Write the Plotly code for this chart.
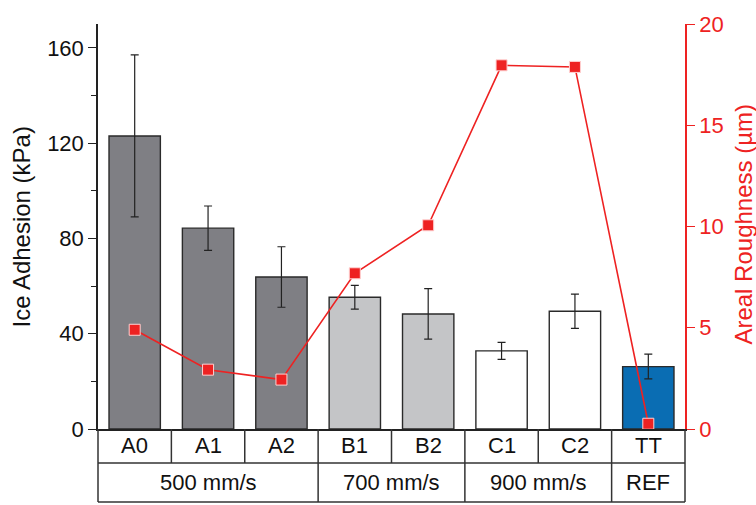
import plotly.graph_objects as go

categories = ["A0", "A1", "A2", "B1", "B2", "C1", "C2", "TT"]
groups = ["500 mm/s", "500 mm/s", "500 mm/s", "700 mm/s", "700 mm/s", "900 mm/s", "900 mm/s", "REF"]
adhesion = [123.0, 84.3, 63.8, 55.3, 48.3, 32.8, 49.4, 26.2]
adhesion_err = [34.0, 9.3, 12.7, 5.0, 10.6, 3.6, 7.2, 5.2]
roughness = [4.9, 2.93, 2.44, 7.69, 10.06, 17.96, 17.88, 0.26]

bar_colors = ["#7f7f84", "#7f7f84", "#7f7f84", "#c4c5c7", "#c4c5c7", "#ffffff", "#ffffff", "#0a6db3"]
RED = "#ee2222"
FONT = "Liberation Sans, Arial, sans-serif"

x = list(range(len(categories)))
n = len(categories)

fig = go.Figure()
fig.add_trace(go.Bar(
    x=x, y=adhesion, width=0.7,
    marker=dict(color=bar_colors, line=dict(color="#2a2a2a", width=1.4)),
    error_y=dict(type="data", array=adhesion_err, visible=True, color="#222222", thickness=1.2, width=4),
    showlegend=False, yaxis="y", hoverinfo="skip",
))
fig.add_trace(go.Scatter(
    x=x, y=roughness, mode="lines+markers", yaxis="y2",
    line=dict(color=RED, width=1.6),
    marker=dict(symbol="square", size=11, color=RED, line=dict(color="#ffd0d0", width=1)),
    showlegend=False, cliponaxis=False, hoverinfo="skip",
))

# table below the axis
row1 = -0.0839
row2 = -0.1802
line_style = dict(color="#333333", width=1.5)
shapes = []
shapes.append(dict(type="line", xref="paper", yref="paper", x0=0, x1=1, y0=row1, y1=row1, line=line_style))
shapes.append(dict(type="line", xref="paper", yref="paper", x0=0, x1=1, y0=row2, y1=row2, line=line_style))
shapes.append(dict(type="line", xref="paper", yref="paper", x0=0, x1=0, y0=0, y1=row2, line=line_style))
shapes.append(dict(type="line", xref="paper", yref="paper", x0=1, x1=1, y0=0, y1=row2, line=line_style))
for k in range(1, n):
    shapes.append(dict(type="line", xref="paper", yref="paper", x0=k / n, x1=k / n, y0=0, y1=row1, line=line_style))
    if groups[k] != groups[k - 1]:
        shapes.append(dict(type="line", xref="paper", yref="paper", x0=k / n, x1=k / n, y0=row1, y1=row2, line=line_style))

annotations = []
for i, c in enumerate(categories):
    annotations.append(dict(text=c, x=(i + 0.5) / n, y=row1 / 2, xref="paper", yref="paper",
                            showarrow=False, xanchor="center", yanchor="middle",
                            font=dict(family=FONT, size=22, color="#111111")))
# group labels
start = 0
for k in range(1, n + 1):
    if k == n or groups[k] != groups[start]:
        annotations.append(dict(text=groups[start], x=(start + k) / 2 / n, y=(row1 + row2) / 2,
                                xref="paper", yref="paper", showarrow=False,
                                xanchor="center", yanchor="middle",
                                font=dict(family=FONT, size=22, color="#111111")))
        start = k

annotations.append(dict(text="Ice Adhesion (kPa)", textangle=-90, x=-0.1295, y=0.5, xref="paper", yref="paper",
                        showarrow=False, xanchor="center", yanchor="middle",
                        font=dict(family=FONT, size=24, color="#111111")))
annotations.append(dict(text="Areal Roughness (µm)", textangle=-90, x=1.099, y=0.505, xref="paper", yref="paper",
                        showarrow=False, xanchor="center", yanchor="middle",
                        font=dict(family=FONT, size=24, color=RED)))

fig.update_layout(
    width=756, height=505,
    margin=dict(l=98, r=71, t=20, b=76),
    paper_bgcolor="white", plot_bgcolor="white",
    font=dict(family=FONT),
    bargap=0.3,
    xaxis=dict(range=[-0.5, n - 0.5], showticklabels=False, ticks="", showgrid=False, zeroline=False,
               showline=True, linecolor="#222222", linewidth=1.5),
    yaxis=dict(range=[0, 170], tickvals=[0, 40, 80, 120, 160], ticks="outside", ticklen=8, tickwidth=1.3,
               tickcolor="#222222", showgrid=False, zeroline=False, showline=True, linecolor="#222222",
               linewidth=1.5, tickfont=dict(family=FONT, size=22, color="#111111"),
               minor=dict(tickvals=[20, 60, 100, 140], ticks="outside", ticklen=5, tickwidth=1.2, tickcolor="#222222")),
    yaxis2=dict(range=[0, 20], tickvals=[0, 5, 10, 15, 20], overlaying="y", side="right", anchor="x",
                ticks="outside", ticklen=8, tickwidth=1.3, tickcolor=RED, showgrid=False, zeroline=False,
                showline=True, linecolor=RED, linewidth=1.5, tickfont=dict(family=FONT, size=22, color=RED)),
    shapes=shapes,
    annotations=annotations,
)

fig.write_html("out.html", config={"displayModeBar": False},
               post_script="document.body.style.margin='0';document.body.style.overflow='hidden';")
